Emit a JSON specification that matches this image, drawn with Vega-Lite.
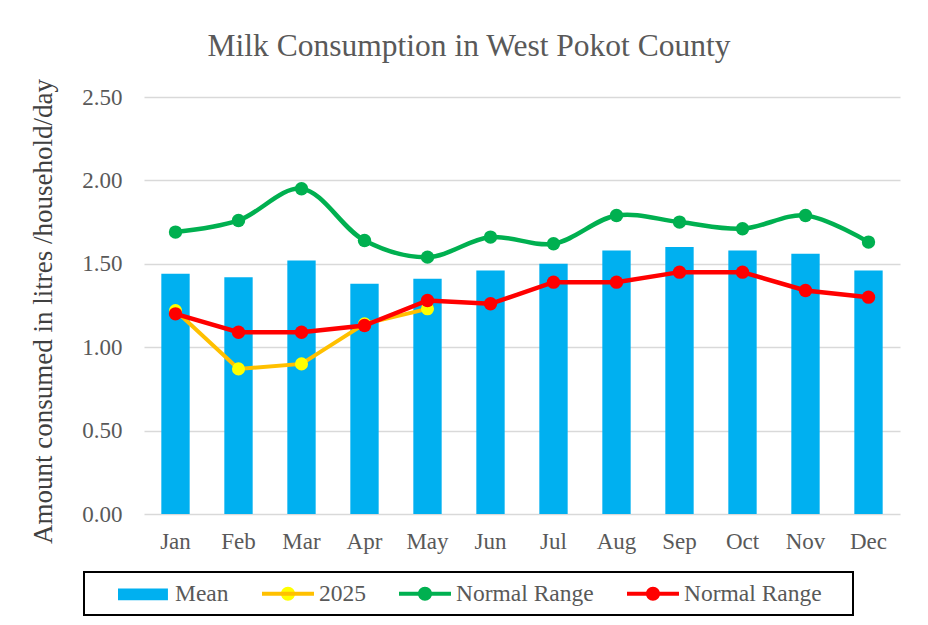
{
  "$schema": "https://vega.github.io/schema/vega-lite/v6.json",
  "width": 756,
  "height": 417,
  "autosize": {"type": "none"},
  "padding": {"left": 144, "top": 97, "right": 28, "bottom": 111},
  "background": "white",
  "title": {
    "text": "Milk Consumption in West Pokot County",
    "font": "Liberation Serif",
    "fontSize": 31.5,
    "fontWeight": "normal",
    "color": "#595959",
    "anchor": "middle",
    "frame": "group",
    "dx": -53,
    "offset": 16
  },
  "config": {"view": {"stroke": null}, "font": "Liberation Serif"},
  "data": {
    "values": [
      {"month": "Jan", "series": "Mean", "value": 1.44},
      {"month": "Feb", "series": "Mean", "value": 1.42},
      {"month": "Mar", "series": "Mean", "value": 1.52},
      {"month": "Apr", "series": "Mean", "value": 1.38},
      {"month": "May", "series": "Mean", "value": 1.41},
      {"month": "Jun", "series": "Mean", "value": 1.46},
      {"month": "Jul", "series": "Mean", "value": 1.50},
      {"month": "Aug", "series": "Mean", "value": 1.58},
      {"month": "Sep", "series": "Mean", "value": 1.60},
      {"month": "Oct", "series": "Mean", "value": 1.58},
      {"month": "Nov", "series": "Mean", "value": 1.56},
      {"month": "Dec", "series": "Mean", "value": 1.46},
      {"month": "Jan", "series": "2025", "value": 1.22},
      {"month": "Feb", "series": "2025", "value": 0.87},
      {"month": "Mar", "series": "2025", "value": 0.90},
      {"month": "Apr", "series": "2025", "value": 1.14},
      {"month": "May", "series": "2025", "value": 1.23},
      {"month": "Jan", "series": "Normal Range High", "value": 1.69},
      {"month": "Feb", "series": "Normal Range High", "value": 1.76},
      {"month": "Mar", "series": "Normal Range High", "value": 1.95},
      {"month": "Apr", "series": "Normal Range High", "value": 1.64},
      {"month": "May", "series": "Normal Range High", "value": 1.54},
      {"month": "Jun", "series": "Normal Range High", "value": 1.66},
      {"month": "Jul", "series": "Normal Range High", "value": 1.62},
      {"month": "Aug", "series": "Normal Range High", "value": 1.79},
      {"month": "Sep", "series": "Normal Range High", "value": 1.75},
      {"month": "Oct", "series": "Normal Range High", "value": 1.71},
      {"month": "Nov", "series": "Normal Range High", "value": 1.79},
      {"month": "Dec", "series": "Normal Range High", "value": 1.63},
      {"month": "Jan", "series": "Normal Range Low", "value": 1.20},
      {"month": "Feb", "series": "Normal Range Low", "value": 1.09},
      {"month": "Mar", "series": "Normal Range Low", "value": 1.09},
      {"month": "Apr", "series": "Normal Range Low", "value": 1.13},
      {"month": "May", "series": "Normal Range Low", "value": 1.28},
      {"month": "Jun", "series": "Normal Range Low", "value": 1.26},
      {"month": "Jul", "series": "Normal Range Low", "value": 1.39},
      {"month": "Aug", "series": "Normal Range Low", "value": 1.39},
      {"month": "Sep", "series": "Normal Range Low", "value": 1.45},
      {"month": "Oct", "series": "Normal Range Low", "value": 1.45},
      {"month": "Nov", "series": "Normal Range Low", "value": 1.34},
      {"month": "Dec", "series": "Normal Range Low", "value": 1.30}
    ]
  },
  "encoding": {
    "x": {
      "field": "month",
      "type": "nominal",
      "sort": ["Jan", "Feb", "Mar", "Apr", "May", "Jun", "Jul", "Aug", "Sep", "Oct", "Nov", "Dec"],
      "scale": {"paddingInner": 0.55, "paddingOuter": 0.275},
      "axis": {
        "title": null,
        "labelAngle": 0,
        "labelFont": "Liberation Serif",
        "labelFontSize": 23,
        "labelColor": "#595959",
        "labelPadding": 16,
        "ticks": false,
        "domain": false
      }
    },
    "y": {
      "field": "value",
      "type": "quantitative",
      "scale": {"domain": [0, 2.5]},
      "axis": {
        "title": "Amount consumed in litres /household/day",
        "titleFont": "Liberation Serif",
        "titleFontSize": 27,
        "titleFontWeight": "normal",
        "titleColor": "#404040",
        "titleX": -101,
        "titleY": 214,
        "titleAngle": 270,
        "titleAlign": "center",
        "titleBaseline": "middle",
        "values": [0, 0.5, 1, 1.5, 2, 2.5],
        "format": ".2f",
        "labelFont": "Liberation Serif",
        "labelFontSize": 23,
        "labelColor": "#595959",
        "labelPadding": 22,
        "ticks": false,
        "domain": false,
        "grid": true,
        "gridColor": "#D9D9D9",
        "gridWidth": 1.5
      }
    }
  },
  "resolve": {"scale": {"fill": "shared", "stroke": "shared"}},
  "layer": [
    {
      "transform": [{"filter": "datum.series === 'Mean'"}],
      "mark": {"type": "bar"},
      "encoding": {
        "fill": {
          "field": "series",
          "type": "nominal",
          "scale": {
            "domain": ["Mean", "2025", "Normal Range High", "Normal Range Low"],
            "range": ["#00B0F0", "#FFFF00", "#00B050", "#FF0000"]
          },
          "legend": {
            "orient": "none",
            "legendX": -60,
            "legendY": 475,
            "direction": "horizontal",
            "columns": 4,
            "title": "M",
            "titleOrient": "right",
            "titleFont": "Liberation Serif",
            "titleFontSize": 23.5,
            "titleColor": "transparent",
            "titlePadding": 2,
            "labelFont": "Liberation Serif",
            "labelFontSize": 23.5,
            "labelColor": "#595959",
            "labelExpr": "indexof(datum.label, 'Normal Range') === 0 ? 'Normal Range' : datum.label",
            "symbolSize": 700,
            "symbolStrokeWidth": 4,
            "labelOffset": 54,
            "columnPadding": 5,
            "padding": 6,
            "strokeColor": "black",
            "encode": {
              "legend": {"update": {"strokeWidth": {"value": 2}}},
              "symbols": {
                "update": {
                  "shape": {"signal": "datum.value == 'Mean' ? 'M0.945,-0.435H4.72V0.435H0.945Z' : 'M2.91,0H1.096H2.91H0.945H4.875M3.439,0A0.529,0.529 0 1,1 2.381,0A0.529,0.529 0 1,1 3.439,0'"},
                  "strokeWidth": {"value": 4},
                  "strokeDash": {"value": [0, 48, 1000, 0]},
                  "opacity": {"value": 1}
                }
              }
            }
          }
        }
      }
    },
    {
      "transform": [{"filter": "datum.series === '2025'"}],
      "mark": {"type": "line", "strokeWidth": 4},
      "encoding": {
        "stroke": {
          "field": "series",
          "type": "nominal",
          "scale": {
            "domain": ["Mean", "2025", "Normal Range High", "Normal Range Low"],
            "range": ["transparent", "#FFC000", "#00B050", "#FF0000"]
          },
          "legend": {
            "orient": "none",
            "legendX": -60,
            "legendY": 475,
            "direction": "horizontal",
            "columns": 4,
            "title": "M",
            "titleOrient": "right",
            "titleFont": "Liberation Serif",
            "titleFontSize": 23.5,
            "titleColor": "transparent",
            "titlePadding": 2,
            "labelFont": "Liberation Serif",
            "labelFontSize": 23.5,
            "labelColor": "#595959",
            "labelExpr": "indexof(datum.label, 'Normal Range') === 0 ? 'Normal Range' : datum.label",
            "symbolSize": 700,
            "symbolStrokeWidth": 4,
            "labelOffset": 54,
            "columnPadding": 5,
            "padding": 6,
            "strokeColor": "black",
            "encode": {
              "legend": {"update": {"strokeWidth": {"value": 2}}},
              "symbols": {
                "update": {
                  "shape": {"signal": "datum.value == 'Mean' ? 'M0.945,-0.435H4.72V0.435H0.945Z' : 'M2.91,0H1.096H2.91H0.945H4.875M3.439,0A0.529,0.529 0 1,1 2.381,0A0.529,0.529 0 1,1 3.439,0'"},
                  "strokeWidth": {"value": 4},
                  "strokeDash": {"value": [0, 48, 1000, 0]},
                  "opacity": {"value": 1}
                }
              }
            }
          }
        }
      }
    },
    {
      "transform": [{"filter": "datum.series === '2025'"}],
      "mark": {"type": "point", "filled": true, "size": 170, "opacity": 1},
      "encoding": {"fill": {"field": "series", "type": "nominal"}}
    },
    {
      "transform": [{"filter": "datum.series === 'Normal Range High'"}],
      "mark": {"type": "line", "strokeWidth": 4.5, "interpolate": "catmull-rom"},
      "encoding": {"stroke": {"field": "series", "type": "nominal"}}
    },
    {
      "transform": [{"filter": "datum.series === 'Normal Range High'"}],
      "mark": {"type": "point", "filled": true, "size": 180, "opacity": 1},
      "encoding": {"fill": {"field": "series", "type": "nominal"}}
    },
    {
      "transform": [{"filter": "datum.series === 'Normal Range Low'"}],
      "mark": {"type": "line", "strokeWidth": 4.5},
      "encoding": {"stroke": {"field": "series", "type": "nominal"}}
    },
    {
      "transform": [{"filter": "datum.series === 'Normal Range Low'"}],
      "mark": {"type": "point", "filled": true, "size": 180, "opacity": 1},
      "encoding": {"fill": {"field": "series", "type": "nominal"}}
    }
  ]
}
